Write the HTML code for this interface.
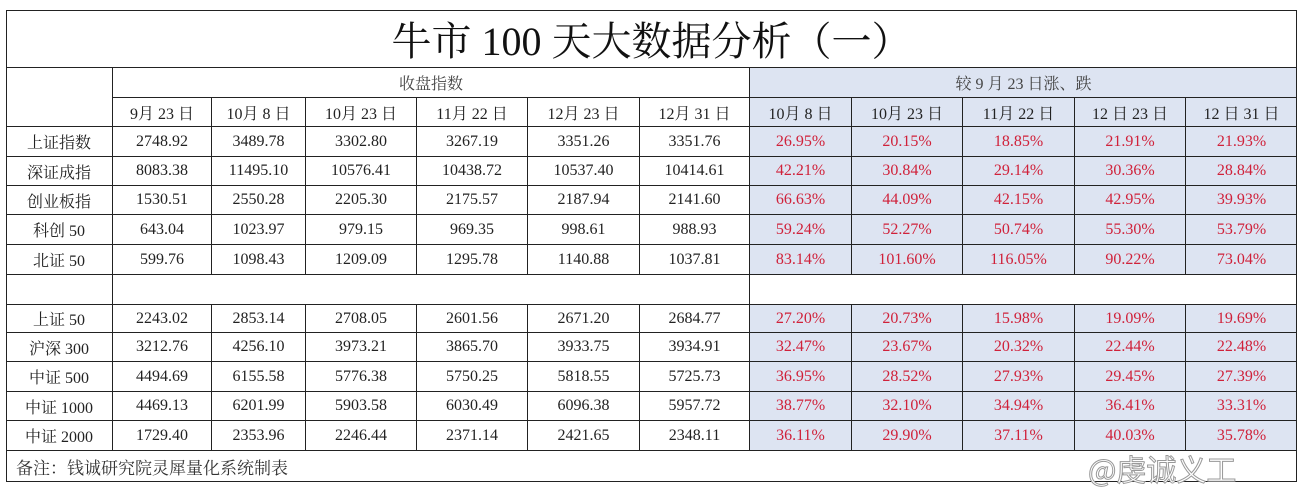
<!DOCTYPE html>
<html><head><meta charset="utf-8">
<style>
body{margin:0;width:1307px;height:496px;background:#fff;position:relative;overflow:hidden;font-family:"Liberation Serif","Noto Serif CJK SC",serif;}
.c{position:absolute;box-sizing:border-box;display:flex;align-items:center;justify-content:center;font-size:16px;color:#222;border-right:1px solid #222;border-bottom:1px solid #222;}
.b{background:#dde4f2;}
.r{color:#d0213a;}
</style></head><body>
<div class="c" style="left:6px;top:10px;width:1291px;height:58px;font-size:40px;color:#111;border-right:none;">牛市 100 天大数据分析（一）</div>
<div id="grid"></div>
<div class="c" style="left:6px;top:451px;width:1291px;height:31px;justify-content:flex-start;padding-left:10px;font-size:17px;color:#333;border-right:none;border-bottom:none;">备注：钱诚研究院灵犀量化系统制表</div>
<div style="position:absolute;left:6px;top:10px;width:1291px;height:472px;border:1px solid #222;box-sizing:border-box;"></div>
<div style="position:absolute;left:1088px;top:446px;font-family:'Noto Sans CJK SC',sans-serif;font-size:30px;color:#fff;-webkit-text-stroke:1px #999;">@虔诚义工</div>
<script>
const names=["上证指数","深证成指","创业板指","科创 50","北证 50","","上证 50","沪深 300","中证 500","中证 1000","中证 2000"];
const closeDates=["9月 23 日","10月 8 日","10月 23 日","11月 22 日","12月 23 日","12月 31 日"];
const chgDates=["10月 8 日","10月 23 日","11月 22 日","12 日 23 日","12 日 31 日"];
const closes=[
["2748.92","3489.78","3302.80","3267.19","3351.26","3351.76"],
["8083.38","11495.10","10576.41","10438.72","10537.40","10414.61"],
["1530.51","2550.28","2205.30","2175.57","2187.94","2141.60"],
["643.04","1023.97","979.15","969.35","998.61","988.93"],
["599.76","1098.43","1209.09","1295.78","1140.88","1037.81"],
null,
["2243.02","2853.14","2708.05","2601.56","2671.20","2684.77"],
["3212.76","4256.10","3973.21","3865.70","3933.75","3934.91"],
["4494.69","6155.58","5776.38","5750.25","5818.55","5725.73"],
["4469.13","6201.99","5903.58","6030.49","6096.38","5957.72"],
["1729.40","2353.96","2246.44","2371.14","2421.65","2348.11"]];
const changes=[
["26.95%","20.15%","18.85%","21.91%","21.93%"],
["42.21%","30.84%","29.14%","30.36%","28.84%"],
["66.63%","44.09%","42.15%","42.95%","39.93%"],
["59.24%","52.27%","50.74%","55.30%","53.79%"],
["83.14%","101.60%","116.05%","90.22%","73.04%"],
null,
["27.20%","20.73%","15.98%","19.09%","19.69%"],
["32.47%","23.67%","20.32%","22.44%","22.48%"],
["36.95%","28.52%","27.93%","29.45%","27.39%"],
["38.77%","32.10%","34.94%","36.41%","33.31%"],
["36.11%","29.90%","37.11%","40.03%","35.78%"]];
const xs=[6,113,212,306,417,528,640,750,852,963,1075,1186,1297];
const ys=[127,157,186,215,245,275,305,333,362,392,421,451];
const g=document.getElementById('grid');
function cell(x0,x1,y0,y1,txt,cls,name){
 const d=document.createElement('div');
 d.className='c '+cls;
 d.style.left=x0+'px';d.style.top=y0+'px';d.style.width=(x1-x0)+'px';d.style.height=(y1-y0)+'px';
 if(x1>=1297)d.style.borderRight='none';
 d.textContent=txt;
 
 
 g.appendChild(d);return d;
}
cell(6,113,68,127,'','','corner-cell');
cell(113,750,68,98,'收盘指数','','close-group-header').style.color='#444';
cell(750,1297,68,98,'较 9 月 23 日涨、跌','b','change-group-header').style.color='#444';
closeDates.forEach((t,i)=>cell(xs[i+1],xs[i+2],98,127,t,'','close-date-header'));
chgDates.forEach((t,i)=>cell(xs[i+7],xs[i+8],98,127,t,'b','change-date-header'));
names.forEach((n,r)=>{
 const y0=ys[r],y1=ys[r+1];
 if(!closes[r]){cell(6,113,y0,y1,'','','blank-row-label');cell(113,750,y0,y1,'','','blank-row');cell(750,1297,y0,y1,'','','blank-row');return;}
 cell(6,113,y0,y1,n,'','index-name');
 closes[r].forEach((v,i)=>cell(xs[i+1],xs[i+2],y0,y1,v,'','close-value'));
 changes[r].forEach((v,i)=>cell(xs[i+7],xs[i+8],y0,y1,v,'b r','change-value'));
});
</script>
</body></html>
